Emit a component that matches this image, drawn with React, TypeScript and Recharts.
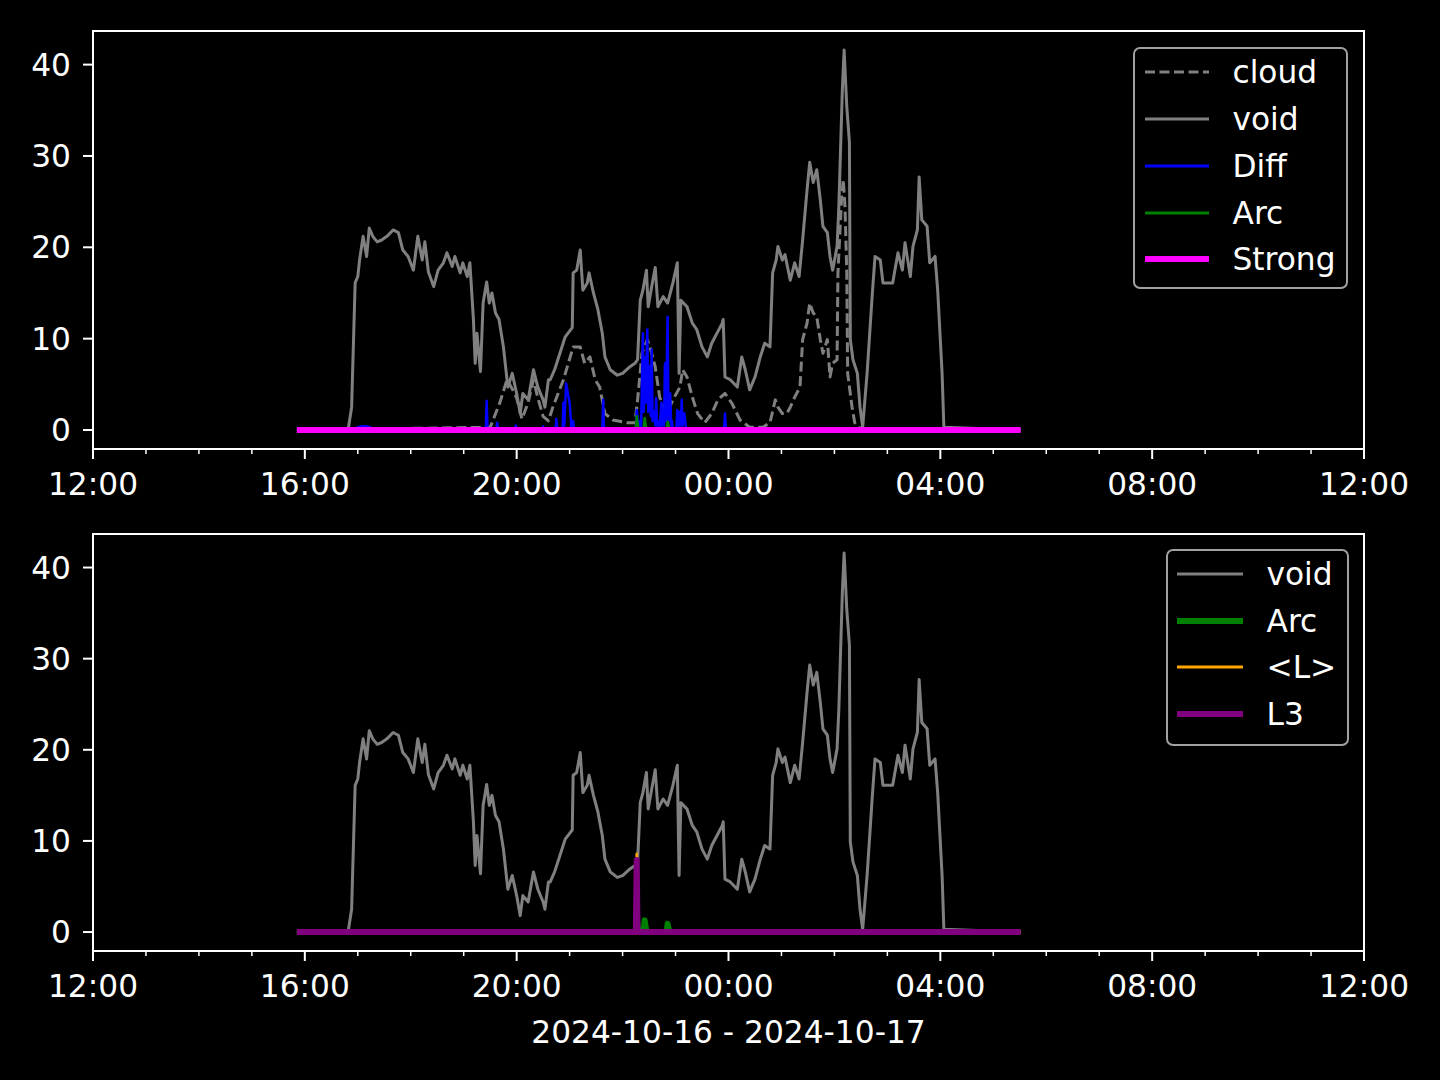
import React from "react";
import { LineChart, Line, XAxis, YAxis, Legend, ReferenceArea } from "recharts";

// times are clock readings on 2024-10-16/17
const voidTime = [
  "15:51", "16:49", "16:53", "16:57", "17:00", "17:02", "17:06", "17:10", "17:13", "17:17",
  "17:22", "17:27", "17:33", "17:40", "17:46", "17:51", "17:57", "18:03", "18:08", "18:13",
  "18:16", "18:20", "18:26", "18:31", "18:37", "18:41", "18:47", "18:50", "18:56", "18:59",
  "19:04", "19:07", "19:11", "19:13", "19:15", "19:19", "19:22", "19:26", "19:29", "19:32",
  "19:36", "19:40", "19:45", "19:50", "19:55", "20:00", "20:04", "20:07", "20:13", "20:19",
  "20:24", "20:30", "20:32", "20:36", "20:38", "20:43", "20:49", "20:55", "21:03", "21:04",
  "21:08", "21:12", "21:15", "21:20", "21:22", "21:27", "21:32", "21:37", "21:40", "21:46",
  "21:54", "22:00", "22:08", "22:14", "22:17", "22:20", "22:23", "22:27", "22:29", "22:33",
  "22:37", "22:40", "22:46", "22:51", "22:57", "23:02", "23:04", "23:06", "23:13", "23:19",
  "23:24", "23:30", "23:36", "23:41", "23:47", "23:53", "23:54", "23:56", "00:02", "00:10",
  "00:15", "00:19", "00:24", "00:30", "00:36", "00:41", "00:47", "00:50", "00:54", "00:56",
  "01:01", "01:04", "01:10", "01:15", "01:20", "01:24", "01:29", "01:32", "01:36", "01:40",
  "01:44", "01:47", "01:52", "01:55", "01:58", "02:03", "02:05", "02:09", "02:11", "02:14",
  "02:17", "02:18", "02:21", "02:26", "02:29", "02:32", "02:37", "02:43", "02:46", "02:52",
  "02:55", "03:01", "03:06", "03:12", "03:17", "03:20", "03:26", "03:29", "03:34", "03:36",
  "03:39", "03:45", "03:48", "03:54", "03:57", "04:02", "04:04", "05:31",
];
const voidVal = [
  0, 0, 2.5, 16.1, 16.8, 18.6, 21.2, 19.0, 22.1, 21.2,
  20.6, 20.8, 21.2, 21.9, 21.6, 19.7, 19.0, 17.5, 21.2, 18.6,
  20.6, 17.3, 15.7, 17.5, 18.3, 19.4, 17.9, 19.0, 17.2, 18.3,
  16.8, 18.3, 12.1, 7.3, 10.6, 6.4, 13.9, 16.2, 13.9, 15.0,
  12.8, 12.1, 9.1, 4.7, 6.2, 4.0, 1.8, 4.0, 3.3, 6.6,
  4.7, 3.3, 2.5, 5.5, 5.5, 6.6, 8.4, 10.2, 11.2, 17.2,
  17.5, 19.7, 15.3, 16.1, 17.2, 15.0, 13.2, 10.6, 8.0, 6.6,
  6.0, 6.2, 6.9, 7.3, 7.7, 14.2, 15.3, 17.5, 13.5, 15.7,
  17.8, 13.5, 14.6, 13.9, 16.1, 18.3, 6.2, 14.2, 13.5, 11.7,
  11.0, 9.1, 8.0, 9.5, 10.6, 11.7, 12.1, 5.8, 5.5, 4.7,
  8.0, 6.6, 4.4, 5.8, 8.0, 9.5, 9.1, 17.2, 18.6, 20.1,
  18.6, 19.2, 16.4, 18.3, 16.8, 20.8, 26.3, 29.3, 27.1, 28.5,
  25.2, 22.3, 21.6, 19.0, 17.5, 20.1, 24.4, 37.3, 41.6, 35.4,
  31.5, 9.9, 7.7, 6.2, 2.5, 0.3, 6.2, 15.0, 19.0, 18.6,
  16.1, 16.1, 16.1, 19.4, 17.5, 20.5, 16.8, 20.1, 21.9, 27.7,
  23.0, 22.3, 18.3, 19.0, 15.3, 6.2, 0.3, 0,
];

const cloudTime = [
  "15:51", "19:30", "19:41", "19:49", "19:55", "20:00", "20:06", "20:13", "20:19", "20:24",
  "20:30", "20:36", "20:41", "20:53", "21:04", "21:12", "21:17", "21:23", "21:29", "21:34",
  "21:40", "21:49", "22:05", "22:14", "22:17", "22:22", "22:28", "22:31", "22:37", "22:42",
  "22:50", "22:57", "23:05", "23:08", "23:13", "23:19", "23:25", "23:33", "23:41", "23:48",
  "23:56", "00:04", "00:13", "00:24", "00:39", "00:47", "00:53", "00:56", "01:01", "01:06",
  "01:10", "01:15", "01:21", "01:24", "01:29", "01:32", "01:36", "01:40", "01:44", "01:47",
  "01:52", "01:55", "01:58", "02:03", "02:04", "02:08", "02:10", "02:12", "02:14", "02:15",
  "02:20", "02:23", "02:27", "02:35", "05:31",
];
const cloudVal = [
  0, 0.3, 3.0, 5.5, 4.5, 3.5, 1.2, 3.0, 5.5, 3.5,
  1.5, 1.0, 2.5, 5.5, 9.1, 9.1, 7.3, 8.0, 5.5, 4.7,
  1.8, 1.1, 0.8, 0.8, 3.3, 8.4, 9.9, 9.1, 6.9, 3.6,
  1.8, 3.3, 4.7, 6.6, 5.8, 3.6, 1.8, 0.8, 1.8, 3.3,
  4.0, 2.9, 1.1, 0.3, 0.3, 0.8, 3.3, 2.5, 1.8, 1.8,
  2.5, 3.6, 4.7, 9.9, 11.7, 13.9, 12.8, 12.4, 9.9, 8.4,
  9.9, 5.8, 7.3, 7.7, 17.2, 25.2, 27.4, 24.4, 17.2, 6.2,
  2.5, 0.8, 0.3, 0, 0,
];

const diffTime = [
  "15:51", "16:59", "17:00", "17:05", "17:09", "17:14", "17:15",
  "19:25", "19:26", "19:27", "19:37", "19:38", "19:39", "19:58", "19:59", "20:00",
  "20:29", "20:30", "20:31", "20:44", "20:45", "20:46",
  "20:52", "20:53", "20:54", "20:56", "20:58", "21:00", "21:02", "21:04", "21:05",
  "21:37", "21:38", "21:39",
  "22:15", "22:16", "22:18", "22:20", "22:21", "22:23", "22:24", "22:25", "22:26", "22:28",
  "22:29", "22:31", "22:32", "22:33", "22:34", "22:36", "22:37", "22:38", "22:39", "22:40",
  "22:42", "22:44", "22:45", "22:46", "22:47", "22:48", "22:49", "22:51", "22:52", "22:54",
  "22:55", "22:56", "22:57", "23:01", "23:02", "23:03", "23:05", "23:06", "23:07", "23:08",
  "23:10", "23:12", "23:55", "23:56", "23:57", "05:31",
];
const diffVal = [
  0, 0, 0.3, 0.4, 0.4, 0.3, 0,
  0, 3.2, 0, 0, 0.8, 0, 0, 0.5, 0,
  0, 0.4, 0, 0, 1.2, 0,
  0, 3.0, 0.5, 5.1, 4.0, 3.0, 0.3, 1.0, 0,
  0, 3.3, 0,
  0, 2.2, 0.5, 1.0, 0.3, 10.6, 2.0, 8.0, 3.0, 11.0,
  2.0, 7.0, 1.5, 8.8, 1.0, 2.0, 0.5, 3.5, 0.5, 1.0,
  0, 3.0, 0.5, 2.0, 0.5, 7.3, 1.0, 12.4, 1.0, 4.0,
  0.5, 1.0, 0, 0, 2.2, 0.3, 2.0, 0.5, 3.3, 0.5,
  1.8, 0, 0, 1.8, 0, 0,
];

const arcTime = ["15:51", "22:15", "22:16", "22:18", "22:24", "22:25", "22:27", "22:50", "22:51", "22:53", "05:31"];
const arcVal = [0, 0, 1.5, 0, 0, 1.3, 0, 0, 0.9, 0, 0];

const strongTime = ["15:51", "05:31"];
const strongVal = [0, 0];

const lTime = ["15:51", "22:15", "22:16", "22:17", "05:31"];
const lVal = [0, 0, 8.6, 0, 0];

const l3Time = ["15:51", "22:15", "22:16", "22:17", "05:31"];
const l3Val = [0, 0, 7.9, 0, 0];

const hourTicks = [0, 1, 2, 3, 4, 5, 6, 7, 8, 9, 10, 11, 12, 13, 14, 15, 16, 17, 18, 19, 20, 21, 22, 23, 24];
const hourLabels = ["12:00", "16:00", "20:00", "00:00", "04:00", "08:00", "12:00"];
const yTicks = [0, 10, 20, 30, 40];

// hours since 12:00 on the first day
const toHours = (s: string) => {
  const [h, m] = s.split(":").map(Number);
  return (h < 12 ? h + 24 : h) - 12 + m / 60;
};
const pairs = (times: string[], vals: number[]) => times.map((t, i) => ({ t: toHours(t), v: vals[i] }));

const Y_DOMAIN: [number, number] = [-2.08, 43.68];
const FONT = "'DejaVu Sans', sans-serif";
const FS = 31.25;

const TimeTick = (props: any) => {
  const { x, y, payload } = props;
  const major = payload.value % 4 === 0;
  return (
    <g>
      <line x1={x} x2={x} y1={y} y2={y + (major ? 10 : 5)} stroke="#fff" strokeWidth={major ? 2 : 1.5} />
      {major && (
        <text x={x} y={y + 46} textAnchor="middle" fill="#fff" fontSize={FS} fontFamily={FONT}>
          {hourLabels[payload.value / 4]}
        </text>
      )}
    </g>
  );
};

type Entry = { name: string; color: string; width: number; dash?: string };

const LegendBox = ({ entries, lineW, rowH, w, h, padL }: { entries: Entry[]; lineW: number; rowH: number; w: number; h: number; padL: number }) => (
  <div
    style={{
      boxSizing: "border-box",
      width: w,
      height: h,
      background: "#000",
      border: "2.5px solid #a0a0a0",
      borderRadius: 7,
      paddingLeft: padL,
      fontFamily: FONT,
    }}
  >
    {entries.map((e) => (
      <div key={e.name} style={{ display: "flex", alignItems: "center", height: rowH }}>
        <svg width={lineW} height={10} style={{ display: "block" }}>
          <line x1={0} x2={lineW} y1={5} y2={5} stroke={e.color} strokeWidth={e.width} strokeDasharray={e.dash} />
        </svg>
        <span style={{ marginLeft: 24, color: "#fff", fontSize: FS, lineHeight: "32px", whiteSpace: "nowrap" }}>
          {e.name}
        </span>
      </div>
    ))}
  </div>
);

const topEntries: Entry[] = [
  { name: "cloud", color: "#808080", width: 3, dash: "10 4.5" },
  { name: "void", color: "#808080", width: 3 },
  { name: "Diff", color: "#0000ff", width: 3 },
  { name: "Arc", color: "#008000", width: 3 },
  { name: "Strong", color: "#ff00ff", width: 6 },
];
const bottomEntries: Entry[] = [
  { name: "void", color: "#808080", width: 3 },
  { name: "Arc", color: "#008000", width: 6 },
  { name: "<L>", color: "#ffa500", width: 3 },
  { name: "L3", color: "#800080", width: 6 },
];

const axes = (xHeight: number, label?: string) => [
  <XAxis
    key="x"
    type="number"
    dataKey="t"
    domain={[0, 24]}
    ticks={hourTicks}
    interval={0}
    allowDataOverflow
    height={xHeight}
    axisLine={false}
    tickLine={false}
    tickSize={0}
    tickMargin={0}
    tick={<TimeTick />}
    label={
      label
        ? { value: label, position: "insideBottom", offset: 8, fill: "#fff", fontSize: FS, fontFamily: FONT }
        : undefined
    }
  />,
  <YAxis
    key="y"
    type="number"
    domain={Y_DOMAIN}
    ticks={yTicks}
    allowDataOverflow
    width={93}
    axisLine={false}
    tickLine={{ stroke: "#fff", strokeWidth: 2 }}
    tickSize={10}
    tickMargin={12}
    tick={{ fill: "#fff", fontSize: FS, fontFamily: FONT }}
  />,
  <ReferenceArea
    key="frame"
    x1={0}
    x2={24}
    y1={Y_DOMAIN[0]}
    y2={Y_DOMAIN[1]}
    fill="none"
    fillOpacity={0}
    stroke="#fff"
    strokeWidth={2}
    ifOverflow="visible"
  />,
];

export default function App() {
  const common = { dot: false, isAnimationActive: false, type: "linear" as const, dataKey: "v", strokeLinejoin: "round" as const };
  return (
    <div style={{ position: "absolute", left: 0, top: 0, width: 1440, height: 1080, background: "#000", fontFamily: FONT }}>
      <div style={{ position: "absolute", left: 0, top: 0 }}>
        <LineChart width={1440} height={520} margin={{ top: 31, right: 76, bottom: 31, left: 0 }}>
          {axes(40)}
          <Line {...common} data={pairs(cloudTime, cloudVal)} stroke="#808080" strokeWidth={3} strokeDasharray="10 4.5" />
          <Line {...common} data={pairs(voidTime, voidVal)} stroke="#808080" strokeWidth={3} />
          <Line {...common} data={pairs(diffTime, diffVal)} stroke="#0000ff" strokeWidth={2.5} />
          <Line {...common} data={pairs(arcTime, arcVal)} stroke="#008000" strokeWidth={2.5} />
          <Line {...common} data={pairs(strongTime, strongVal)} stroke="#ff00ff" strokeWidth={6} />
          <Legend
            layout="vertical"
            align="center"
            verticalAlign="middle"
            wrapperStyle={{ left: 1133, top: 47, width: "auto" }}
            content={() => <LegendBox entries={topEntries} lineW={64} rowH={46.75} w={215} h={242} padL={9.5} />}
          />
        </LineChart>
      </div>
      <div style={{ position: "absolute", left: 0, top: 520 }}>
        <LineChart width={1440} height={560} margin={{ top: 14, right: 76, bottom: 29, left: 0 }}>
          {axes(100, "2024-10-16 - 2024-10-17")}
          <Line {...common} data={pairs(voidTime, voidVal)} stroke="#808080" strokeWidth={3} />
          <Line {...common} data={pairs(arcTime, arcVal)} stroke="#008000" strokeWidth={6} />
          <Line {...common} data={pairs(lTime, lVal)} stroke="#ffa500" strokeWidth={2.5} />
          <Line {...common} data={pairs(l3Time, l3Val)} stroke="#800080" strokeWidth={6} />
          <Legend
            layout="vertical"
            align="center"
            verticalAlign="middle"
            wrapperStyle={{ left: 1166, top: 29, width: "auto" }}
            content={() => <LegendBox entries={bottomEntries} lineW={66} rowH={46.5} w={183} h={197} padL={8.5} />}
          />
        </LineChart>
      </div>
    </div>
  );
}
